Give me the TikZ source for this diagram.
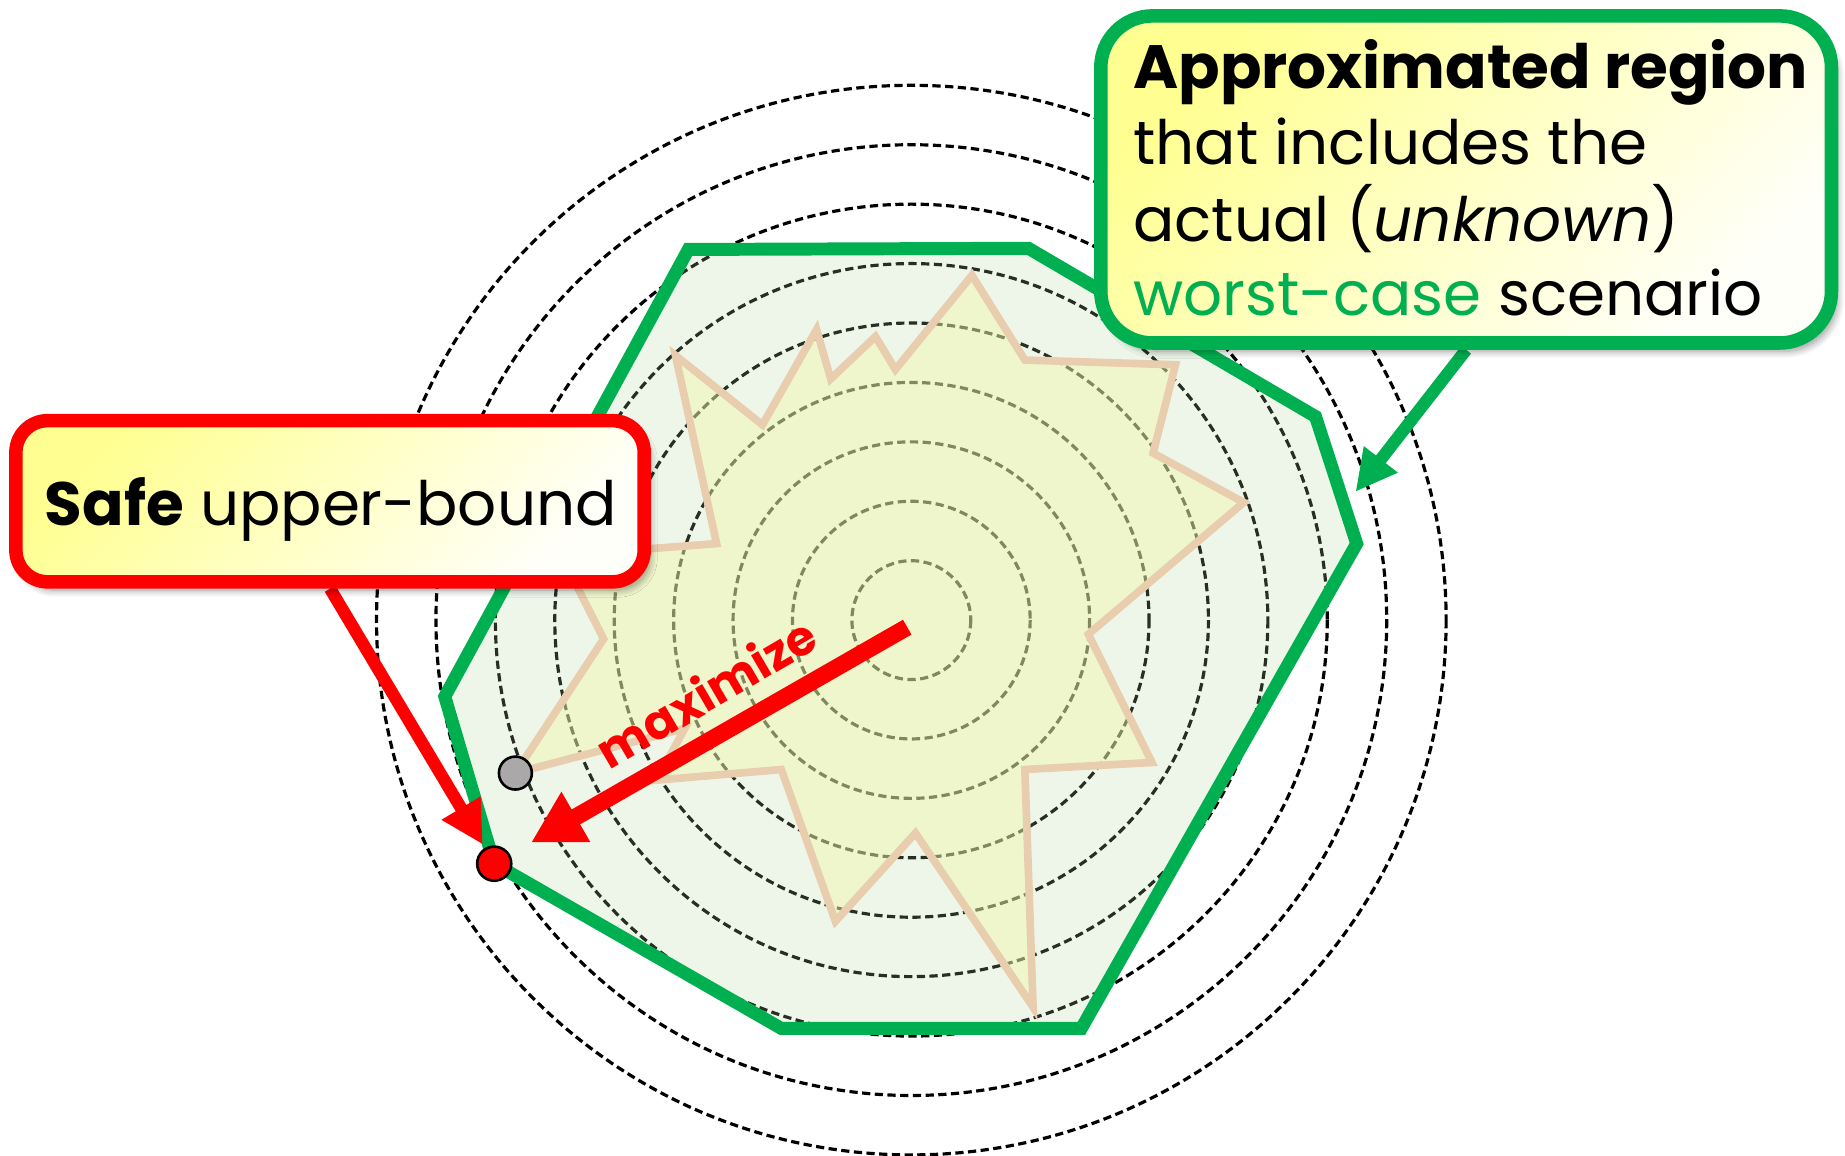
\documentclass[tikz,border=0pt]{standalone}
\usepackage{fontspec}
\setmainfont{Poppins}
\usetikzlibrary{arrows.meta,shadows.blur,calc}
\definecolor{mygreen}{RGB}{0,176,80}
\definecolor{myred}{RGB}{255,0,0}
\definecolor{tanc}{RGB}{232,205,175}
\definecolor{polyfill}{RGB}{178,214,160}
\definecolor{starfill}{RGB}{242,246,167}
\definecolor{boxyellow}{RGB}{255,255,145}
\definecolor{boxwhite}{RGB}{255,255,250}
\definecolor{dotgrey}{RGB}{170,168,168}
\newcommand\mybigtxt{\fontsize{52}{62}\selectfont}
\pgfdeclarelayer{front}
\pgfsetlayers{main,front}
\begin{document}
\begin{tikzpicture}[x=1pt,y=-1pt,
  ring/.style={draw=black, line width=2.7pt, dash pattern=on 7pt off 3.8pt},
  region/.style={draw=mygreen, line width=11pt, fill=polyfill, fill opacity=0.22, line join=miter},
  actual/.style={draw=tanc, line width=6.5pt, fill=starfill, fill opacity=0.45, line join=miter, miter limit=20},
  dotnode/.style={circle, inner sep=0pt, minimum size=29pt, draw=black, line width=2.2pt},
  callout/.style={rectangle, inner sep=0pt, line width=11.5pt,
    blur shadow={shadow xshift=5pt, shadow yshift=-7pt, shadow opacity=40, shadow blur radius=6pt, shadow blur steps=10},
    top color=boxyellow, bottom color=boxwhite, shading angle=45},
  redcall/.style={callout, draw=myred, rounded corners=27pt, minimum width=534pt, minimum height=137pt},
  greencall/.style={callout, draw=mygreen, rounded corners=44pt, minimum width=621pt, minimum height=278pt},
  redpointer/.style={draw=myred, line width=10.5pt, -{Triangle[length=36pt,width=36pt]}},
  greenpointer/.style={draw=mygreen, line width=10.5pt, -{Triangle[length=35pt,width=34pt]}},
  maxarrow/.style={draw=myred, line width=14.5pt, -{Triangle[length=44pt,width=46pt]}},
  txtline/.style={anchor=base west, inner sep=0pt, font=\mybigtxt}
]
\useasboundingbox (0,0) rectangle (1568,982);
\coordinate (c) at (774.5,527);
% concentric rings
\foreach \k in {1,...,9} \draw[ring] (c) circle[radius=50.5*\k];
% approximated region
\draw[region] (585,212) -- (874,211) -- (1118,354) -- (1153,462) -- (919,874) -- (664,874) -- (420,734) -- (378,592) -- cycle;
% actual region
\draw[actual] (438,657) -- (513,543) -- (477,472) -- (609,462) -- (574,302) -- (648,361) -- (694,280) -- (706,322) -- (744,286) -- (761,314) -- (826,234) -- (871,306) -- (999,310) -- (980,385) -- (1057,427) -- (925,539) -- (979,648) -- (871,654) -- (878,856) -- (778,708) -- (710,783) -- (664,654) -- (558,663) -- (582,619) -- cycle;
% points
\node[dotnode, fill=dotgrey, minimum size=28pt] (greydot) at (438,657) {};
\node[dotnode, fill=myred] (reddot) at (420,734) {};
% callouts on the front layer
\begin{pgfonlayer}{front}
\node[redcall] (safe) at (280.5,426) {};
\node[greencall] (approx) at (1246,152.5) {};
\node[txtline] (safetxt) at (38,447) {\textbf{Safe} upper-bound};
\node[txtline] (g1) at (963,75) {\textbf{Approximated region}};
\node[txtline] (g2) at (963,140) {that includes the};
\node[txtline] (g3) at (963,205) {actual (\textit{unknown})};
\node[txtline] (g4) at (963,268) {\textcolor{mygreen}{worst-case} scenario};
\end{pgfonlayer}
% maximize arrow
\coordinate (mstart) at (771,533);
\draw[maxarrow, shorten >=36pt] (mstart) -- (reddot.center);
\node[rotate=30.3, inner sep=0pt, text=myred, font=\bfseries\fontsize{41}{43}\selectfont] (maxtxt) at (600,588) {maximize};
% pointers
\coordinate (gtip) at (1152,418);
\draw[redpointer, shorten >=19pt] (safe.south) -- (reddot.center);
\draw[greenpointer] (approx.south) -- (gtip);
\end{tikzpicture}
\end{document}
